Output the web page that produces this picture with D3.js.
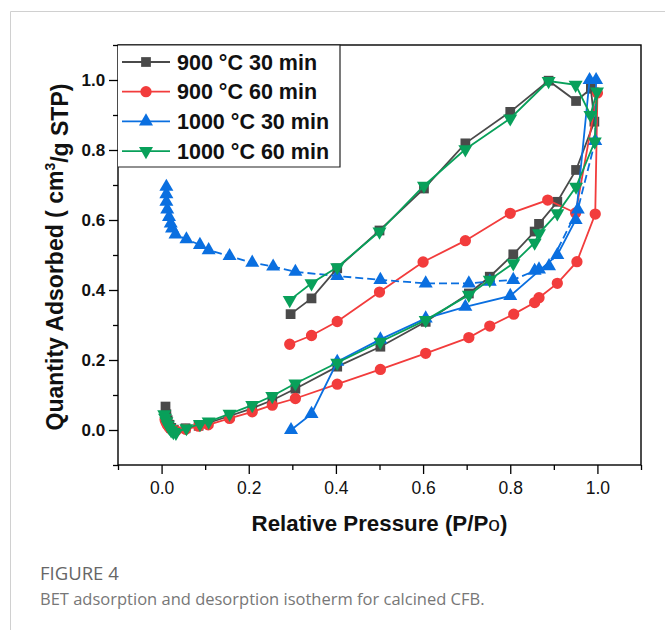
<!DOCTYPE html>
<html>
<head>
<meta charset="utf-8">
<script src="https://cdn.jsdelivr.net/npm/d3@7"></script>
<style>
  html, body { margin: 0; padding: 0; background: #fff; }
  svg { display: block; }
</style>
</head>
<body>
<svg id="chart" width="665" height="630"></svg>
<script>
// Series labels and colours
const seriesNames = ["900 °C 30 min", "900 °C 60 min", "1000 °C 30 min", "1000 °C 60 min"];
const seriesColors = ["#4a4a4a", "#f23c3c", "#0a6fe0", "#08a05a"];
const seriesShapes = ["square", "circle", "triangleUp", "triangleDown"];

// Tick values
const xTicks = [0.0, 0.2, 0.4, 0.6, 0.8, 1.0];
const yTicks = [0.0, 0.2, 0.4, 0.6, 0.8, 1.0];
const minorTicks = [-0.1, 0.1, 0.3, 0.5, 0.7, 0.9, 1.1];

// 900 °C 30 min: adsorption / desorption branches [P/Po, quantity]
const ads900_30 = [[0.009,0.067],[0.011,0.045],[0.014,0.028],[0.018,0.015],[0.022,0.006],[0.028,0.001],[0.055,0.005],[0.085,0.012],[0.107,0.02],[0.156,0.04],[0.208,0.062],[0.254,0.085],[0.307,0.118],[0.403,0.181],[0.502,0.238],[0.606,0.309],[0.705,0.39],[0.753,0.438],[0.807,0.502],[0.856,0.567],[0.866,0.589],[0.908,0.652],[0.951,0.743],[0.993,0.881],[0.985,0.975]];
const des900_30 = [[0.985,0.975],[0.951,0.94],[0.888,0.998],[0.80,0.909],[0.697,0.819],[0.602,0.69],[0.50,0.57],[0.403,0.462],[0.344,0.376],[0.296,0.331]];

// 900 °C 60 min
const ads900_60 = [[0.008,0.03],[0.01,0.022],[0.013,0.015],[0.017,0.008],[0.021,0.003],[0.027,0.0],[0.033,-0.002],[0.055,0.002],[0.085,0.011],[0.107,0.015],[0.156,0.033],[0.208,0.052],[0.254,0.071],[0.307,0.09],[0.403,0.131],[0.502,0.173],[0.606,0.219],[0.705,0.264],[0.753,0.297],[0.808,0.331],[0.856,0.364],[0.866,0.378],[0.908,0.419],[0.953,0.481],[0.995,0.617],[1.0,0.963]];
const des900_60 = [[1.0,0.963],[0.95,0.62],[0.886,0.657],[0.80,0.619],[0.697,0.541],[0.60,0.48],[0.50,0.394],[0.403,0.31],[0.344,0.27],[0.294,0.245]];

// 1000 °C 30 min
const ads1000_30 = [[0.297,0.0],[0.344,0.046],[0.403,0.195],[0.502,0.259],[0.606,0.319],[0.697,0.352],[0.80,0.383],[0.908,0.50],[0.95,0.60],[0.982,1.0],[0.997,1.0]];
const des1000_30 = [[0.997,1.0],[0.995,0.826],[0.955,0.63],[0.889,0.468],[0.866,0.459],[0.856,0.455],[0.807,0.429],[0.753,0.424],[0.705,0.419],[0.606,0.419],[0.502,0.429],[0.403,0.44],[0.307,0.452],[0.256,0.467],[0.208,0.478],[0.156,0.497],[0.108,0.514],[0.088,0.529],[0.057,0.545],[0.032,0.559],[0.024,0.576],[0.021,0.59],[0.017,0.609],[0.013,0.63],[0.011,0.652],[0.011,0.674],[0.011,0.695]];

// 1000 °C 60 min
const ads1000_60 = [[0.006,0.045],[0.008,0.035],[0.011,0.025],[0.014,0.015],[0.018,0.006],[0.022,-0.001],[0.027,-0.006],[0.033,-0.008],[0.057,0.005],[0.088,0.017],[0.108,0.024],[0.156,0.046],[0.208,0.071],[0.254,0.097],[0.307,0.133],[0.403,0.192],[0.502,0.252],[0.606,0.314],[0.705,0.386],[0.753,0.429],[0.807,0.476],[0.856,0.535],[0.866,0.562],[0.908,0.619],[0.951,0.695],[0.994,0.824],[0.999,0.967]];
const des1000_60 = [[0.999,0.967],[0.984,0.90],[0.95,0.986],[0.888,0.997],[0.80,0.89],[0.697,0.802],[0.602,0.698],[0.50,0.567],[0.403,0.465],[0.344,0.419],[0.294,0.371]];

const adsBranches = [ads900_30, ads900_60, ads1000_30, ads1000_60];
const desBranches = [des900_30, des900_60, des1000_30, des1000_60];
const desDashed = [false, false, true, false];

const svg = d3.select("#chart");

// Card border (left and top edges)
svg.append("path")
  .attr("d", "M10.5,630 L10.5,11.5 L665,11.5")
  .attr("fill", "none").attr("stroke", "#d0d0d0").attr("stroke-width", 1);

const plot = { left: 118, right: 641, top: 45, bottom: 465 };
const x = d3.scaleLinear().domain([-0.1, 1.1]).range([plot.left, plot.right]);
const y = d3.scaleLinear().domain([-0.1, 1.1]).range([plot.bottom, plot.top]);

const axisFont = "'Liberation Sans', Arial, sans-serif";

// Bottom axis: minor then major ticks
const gx = svg.append("g").attr("transform", `translate(0,${plot.bottom})`);
gx.call(d3.axisBottom(x).tickValues(minorTicks).tickSize(5).tickFormat(""));
gx.append("g").call(d3.axisBottom(x).tickValues(xTicks).tickSize(9).tickFormat(d3.format(".1f")));
gx.selectAll(".domain").remove();
gx.selectAll("line").attr("stroke", "#000").attr("stroke-width", 1.3);
gx.selectAll("text").attr("font-family", axisFont).attr("font-size", 17.5)
  .attr("fill", "#111").attr("dy", "0.95em");

// Left axis
const gy = svg.append("g").attr("transform", `translate(${plot.left},0)`);
gy.call(d3.axisLeft(y).tickValues(minorTicks).tickSize(5).tickFormat(""));
gy.append("g").call(d3.axisLeft(y).tickValues(yTicks).tickSize(9).tickFormat(d3.format(".1f")));
gy.selectAll(".domain").remove();
gy.selectAll("line").attr("stroke", "#000").attr("stroke-width", 1.3);
gy.selectAll("text").attr("font-family", axisFont).attr("font-size", 17)
  .attr("font-weight", "bold").attr("fill", "#111").attr("dx", "-0.05em");

// Frame
svg.append("rect")
  .attr("x", plot.left).attr("y", plot.top)
  .attr("width", plot.right - plot.left).attr("height", plot.bottom - plot.top)
  .attr("fill", "none").attr("stroke", "#000").attr("stroke-width", 1.4);

// Axis titles
const xTitle = svg.append("text")
  .attr("x", (x(0) + x(1)) / 2).attr("y", 531)
  .attr("text-anchor", "middle")
  .attr("font-family", axisFont).attr("font-size", 22.3).attr("font-weight", "bold").attr("fill", "#111");
xTitle.append("tspan").text("Relative Pressure (P/P");
xTitle.append("tspan").attr("font-weight", "normal").attr("font-size", 21).text("o");
xTitle.append("tspan").text(")");

const yTitle = svg.append("text")
  .attr("transform", `translate(63,${(plot.top + plot.bottom) / 2 + 2}) rotate(-90)`)
  .attr("text-anchor", "middle")
  .attr("font-family", axisFont).attr("font-size", 23).attr("font-weight", "bold").attr("fill", "#111");
yTitle.append("tspan").text("Quantity Adsorbed ( cm");
yTitle.append("tspan").attr("font-size", 14).attr("dy", "-0.6em").text("3");
yTitle.append("tspan").attr("dy", "0.6em").text("/g STP)");

// Marker symbols
function symbolPath(shape) {
  if (shape === "square") return d3.symbol(d3.symbolSquare, 95)();
  if (shape === "circle") return d3.symbol(d3.symbolCircle, 100)();
  return d3.symbol(d3.symbolTriangle, 85)();
}
function symbolRotate(shape) { return shape === "triangleDown" ? " rotate(180)" : ""; }

const line = d3.line().x(d => x(d[0])).y(d => y(d[1]));
const plotArea = svg.append("g");

seriesNames.forEach((name, i) => {
  const g = plotArea.append("g");
  const color = seriesColors[i];
  g.append("path").datum(adsBranches[i]).attr("d", line)
    .attr("fill", "none").attr("stroke", color).attr("stroke-width", 1.8);
  g.append("path").datum(desBranches[i]).attr("d", line)
    .attr("fill", "none").attr("stroke", color).attr("stroke-width", 1.8)
    .attr("stroke-dasharray", desDashed[i] ? "8,4" : null);
  const pts = adsBranches[i].concat(desBranches[i].slice(1));
  g.selectAll("path.pt").data(pts).enter().append("path")
    .attr("class", "pt")
    .attr("d", symbolPath(seriesShapes[i]))
    .attr("transform", d => `translate(${x(d[0])},${y(d[1])})${symbolRotate(seriesShapes[i])}`)
    .attr("fill", color);
});

// Legend
const legend = svg.append("g");
legend.append("path")
  .attr("d", `M${plot.left},${plot.top} L340,${plot.top} L340,167 L${plot.left},167`)
  .attr("fill", "#fff").attr("stroke", "#222").attr("stroke-width", 1.2);
seriesNames.forEach((name, i) => {
  const cy = 62 + i * 29.7;
  const item = legend.append("g");
  item.append("line").attr("x1", 122).attr("x2", 170).attr("y1", cy).attr("y2", cy)
    .attr("stroke", seriesColors[i]).attr("stroke-width", 1.8);
  item.append("path").attr("d", symbolPath(seriesShapes[i]))
    .attr("transform", `translate(146,${cy})${symbolRotate(seriesShapes[i])}`)
    .attr("fill", seriesColors[i]);
  item.append("text").attr("x", 177).attr("y", cy).attr("dy", "0.36em")
    .attr("font-family", axisFont).attr("font-size", 21.5).attr("font-weight", "bold")
    .attr("fill", "#111").text(name);
});

// Caption
svg.append("text").attr("x", 40).attr("y", 580)
  .attr("font-family", "'Open Sans', 'Noto Sans', sans-serif").attr("font-size", 18.5)
  .attr("fill", "#666").text("FIGURE 4");
svg.append("text").attr("x", 40).attr("y", 605)
  .attr("font-family", "'Open Sans', 'Noto Sans', sans-serif").attr("font-size", 16.5)
  .attr("fill", "#777").text("BET adsorption and desorption isotherm for calcined CFB.");
</script>
</body>
</html>
